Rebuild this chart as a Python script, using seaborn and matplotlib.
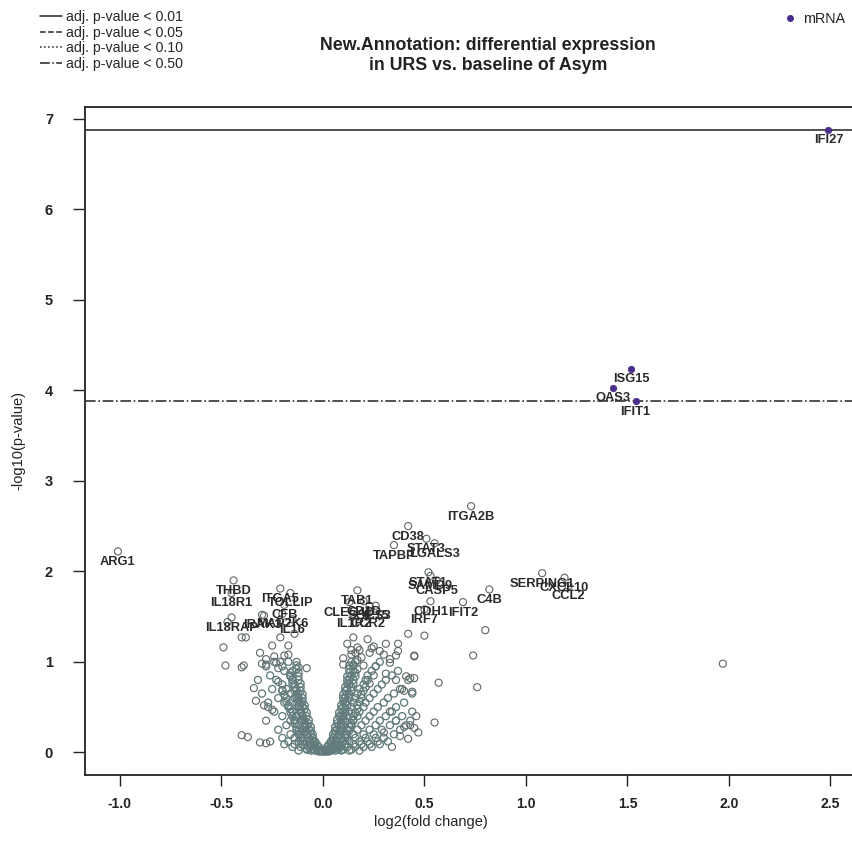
import matplotlib
matplotlib.use("Agg")
import matplotlib.pyplot as plt
from matplotlib.lines import Line2D
import seaborn as sns
import pandas as pd

# ---------------- data ----------------
# scattered (individually visible) background genes
outlier_x = [-0.49, -0.48, -0.40, -0.40, -0.37, -0.28, -0.34, -0.33, -0.31, -0.28, -0.26, -0.31, -0.28, -0.24,
             -0.19, -0.21, -0.22, -0.22, -0.20, -0.16, -0.47, -0.40, -0.38, -0.25, -0.21, -0.17, -0.17, -0.23,
             -0.39, -0.30, -0.28, -0.12, -0.08, -0.18, -0.14, -0.29, -0.29, -0.27, -0.25,
             0.12, 0.14, 0.15, 0.17, 0.16, 0.10, 0.17, 0.19, 0.22, 0.25, 0.28, 0.30, 0.31, 0.37, 0.42, 0.50,
             0.45, 0.74, 0.80, 0.33, 0.33, 0.10, 0.15, 0.20, 0.26, 0.14, 0.18, 0.23, 0.37, 0.36, 0.24,
             1.97, 0.76, 0.57, 0.55, 0.23, 0.25, 0.31, 0.36, 0.41, 0.43, 0.45, 0.40, 0.44, 0.39, 0.45,
             0.33, 0.36, 0.40, 0.43, 0.45, 0.47, 0.46, 0.34, 0.38, 0.42, 0.30]
outlier_y = [1.16, 0.96, 0.94, 0.19, 0.17, 0.35, 0.71, 0.57, 0.11, 0.10, 0.12, 1.10, 1.03, 1.06,
             1.07, 1.00, 0.93, 0.78, 0.69, 0.35, 1.44, 1.27, 1.27, 1.18, 1.27, 1.18, 1.08, 0.99,
             0.96, 0.98, 0.97, 0.94, 0.93, 1.44, 1.31, 1.51, 0.52, 0.50, 0.47,
             1.20, 1.13, 1.27, 1.16, 1.10, 1.04, 1.02, 1.05, 1.25, 1.17, 1.12, 1.08, 1.20, 1.20, 1.31, 1.29,
             1.07, 1.07, 1.35, 1.03, 0.99, 0.97, 0.97, 0.96, 0.95, 1.08, 1.13, 1.10, 1.12, 1.07, 1.15,
             0.98, 0.72, 0.77, 0.33, 0.76, 0.85, 0.87, 0.80, 0.84, 0.82, 0.82, 0.68, 0.67, 0.70, 1.06,
             0.45, 0.35, 0.28, 0.30, 0.27, 0.22, 0.40, 0.06, 0.18, 0.15, 0.22]

# dense V-shaped core: one list of log2FC values per -log10(p) level
core_levels = [0.01, 0.03, 0.06, 0.09, 0.12, 0.16, 0.20, 0.25, 0.30, 0.35, 0.40, 0.45,
               0.50, 0.55, 0.60, 0.65, 0.70, 0.75, 0.80, 0.85, 0.90, 0.95, 1.00]
core_rows = [
    [-0.02, -0.01, 0.0, 0.01, 0.02, 0.03],
    [-0.08, -0.05, -0.03, -0.01, 0.01, 0.03, 0.05, 0.07, 0.10, 0.14],
    [-0.15, -0.11, -0.07, -0.04, -0.02, 0.02, 0.04, 0.06, 0.09, 0.12, 0.16, 0.20, 0.24],
    [-0.19, -0.14, -0.10, -0.06, -0.03, 0.03, 0.05, 0.08, 0.11, 0.15, 0.19, 0.23, 0.28],
    [-0.17, -0.12, -0.08, -0.05, -0.04, 0.04, 0.06, 0.10, 0.13, 0.18, 0.22, 0.27, 0.32],
    [-0.20, -0.14, -0.10, -0.07, -0.05, 0.05, 0.07, 0.09, 0.12, 0.16, 0.21, 0.26, 0.30],
    [-0.16, -0.11, -0.08, -0.06, 0.06, 0.08, 0.11, 0.15, 0.20, 0.25, 0.35],
    [-0.22, -0.13, -0.10, -0.07, 0.07, 0.09, 0.12, 0.17, 0.23, 0.29, 0.38],
    [-0.18, -0.12, -0.09, -0.08, 0.08, 0.10, 0.14, 0.19, 0.26, 0.33, 0.41],
    [-0.14, -0.11, -0.09, 0.09, 0.11, 0.15, 0.21, 0.28, 0.36, 0.43],
    [-0.20, -0.13, -0.10, 0.09, 0.12, 0.17, 0.23, 0.31, 0.39],
    [-0.24, -0.15, -0.11, 0.10, 0.13, 0.18, 0.25, 0.34, 0.44],
    [-0.17, -0.12, -0.10, 0.10, 0.14, 0.20, 0.27, 0.36],
    [-0.27, -0.19, -0.13, -0.11, 0.11, 0.15, 0.21, 0.30, 0.40],
    [-0.22, -0.14, -0.12, 0.11, 0.16, 0.23, 0.32],
    [-0.30, -0.16, -0.12, 0.12, 0.17, 0.25, 0.35, 0.44],
    [-0.25, -0.18, -0.13, 0.12, 0.18, 0.27, 0.38],
    [-0.20, -0.14, 0.13, 0.20, 0.29],
    [-0.32, -0.23, -0.15, 0.13, 0.21, 0.31, 0.42],
    [-0.26, -0.16, 0.14, 0.22, 0.34],
    [-0.19, -0.15, 0.15, 0.24, 0.37],
    [-0.28, -0.20, 0.15, 0.26],
    [-0.24, -0.17, 0.16, 0.28],
]

# the two dark arms of the V
arm_levels = [0.02, 0.04, 0.08, 0.12, 0.16, 0.20, 0.24, 0.28, 0.32, 0.36, 0.40, 0.44, 0.48, 0.52,
              0.56, 0.60, 0.64, 0.68, 0.72, 0.76, 0.80, 0.84, 0.88, 0.92, 0.96, 1.00]
arm_rows = [
    [-0.12, -0.06, -0.04, -0.01, 0.01, 0.04, 0.06, 0.09, 0.13, 0.18],
    [-0.08, -0.05, -0.03, 0.03, 0.05, 0.08],
    [-0.09, -0.06, -0.04, 0.04, 0.06, 0.09],
    [-0.10, -0.06, -0.04, 0.04, 0.07, 0.10],
    [-0.11, -0.07, -0.05, 0.05, 0.07, 0.11],
    [-0.12, -0.08, -0.05, 0.05, 0.08, 0.12],
    [-0.12, -0.08, -0.06, 0.06, 0.08, 0.13],
    [-0.13, -0.09, -0.06, 0.06, 0.09, 0.13],
    [-0.14, -0.09, -0.07, 0.07, 0.09, 0.14],
    [-0.14, -0.10, -0.07, 0.07, 0.10, 0.15],
    [-0.15, -0.10, -0.08, 0.08, 0.10, 0.15],
    [-0.16, -0.11, -0.08, 0.08, 0.11, 0.16],
    [-0.16, -0.11, -0.09, 0.09, 0.11, 0.17],
    [-0.17, -0.12, -0.09, 0.09, 0.12, 0.17],
    [-0.18, -0.12, -0.10, 0.10, 0.12, 0.18],
    [-0.18, -0.13, -0.10, 0.10, 0.13, 0.19],
    [-0.19, -0.13, -0.10, 0.10, 0.13, 0.19],
    [-0.20, -0.14, -0.11, 0.11, 0.14, 0.20],
    [-0.14, -0.11, 0.11, 0.14, 0.21],
    [-0.15, -0.11, 0.12, 0.15],
    [-0.15, -0.12, 0.12, 0.15, 0.22],
    [-0.16, -0.12, 0.12, 0.16],
    [-0.16, -0.12, 0.13, 0.16],
    [-0.13, 0.13, 0.17],
    [-0.13, 0.13],
    [-0.13, 0.14],
]

# labelled genes
gene_names = ["ARG1", "THBD", "IL18R1", "ITGA5", "TOLLIP", "IL18RAP", "IRAK3", "MAP2K6", "CFB", "IL16",
              "TAB1", "CLEC4D", "IL1R2", "CD1D", "CCR2", "SOCS3", "IL15",
              "ITGA2B", "CD38", "TAPBP", "STAT3", "LGALS3", "STAT1", "SAMD9", "CASP5",
              "CDH1", "IFIT2", "IRF7", "C4B", "SERPING1", "CXCL10", "CCL2",
              "IFI27", "ISG15", "OAS3", "IFIT1"]
gene_x = [-1.01, -0.44, -0.45, -0.21, -0.16, -0.45, -0.30, -0.20, -0.19, -0.15,
          0.17, 0.13, 0.15, 0.20, 0.22, 0.23, 0.26,
          0.73, 0.42, 0.35, 0.51, 0.55, 0.52, 0.53, 0.56,
          0.53, 0.69, 0.50, 0.82, 1.08, 1.19, 1.21,
          2.49, 1.52, 1.43, 1.54]
gene_y = [2.22, 1.90, 1.76, 1.81, 1.76, 1.49, 1.52, 1.53, 1.63, 1.47,
          1.79, 1.66, 1.53, 1.67, 1.53, 1.62, 1.62,
          2.72, 2.50, 2.29, 2.36, 2.31, 1.99, 1.95, 1.90,
          1.67, 1.66, 1.58, 1.80, 1.98, 1.93, 1.84,
          6.88, 4.24, 4.03, 3.88]
gene_sig = [False] * 32 + [True] * 4

thresholds = [6.88, 3.88]
threshold_styles = ["-", "-."]
legend_labels = ["adj. p-value < 0.01", "adj. p-value < 0.05", "adj. p-value < 0.10", "adj. p-value < 0.50"]
legend_styles = ["-", "--", ":", "-."]
x_ticks = [-1.0, -0.5, 0.0, 0.5, 1.0, 1.5, 2.0, 2.5]
y_ticks = [0, 1, 2, 3, 4, 5, 6, 7]

# ---------------- figure ----------------
sns.set_theme(style="white")
plt.rcParams["font.family"] = ["Liberation Sans", "DejaVu Sans"]

W, H = 852, 859
fig = plt.figure(figsize=(W / 100, H / 100), dpi=100)

x0 = -1.172
px_per_unit = 203.0
xmax = x0 + (880 - 85) / px_per_unit
ax = fig.add_axes([85 / W, 1 - 775 / H, (880 - 85) / W, (775 - 107) / H])

core_x, core_y = [], []
for lev, row in zip(core_levels + arm_levels, core_rows + arm_rows):
    core_x.extend(row)
    core_y.extend([lev] * len(row))

core_df = pd.DataFrame({"x": core_x, "y": core_y})
out_df = pd.DataFrame({"x": outlier_x, "y": outlier_y})
gene_df = pd.DataFrame({"gene": gene_names, "x": gene_x, "y": gene_y, "sig": gene_sig})

sns.scatterplot(data=out_df, x="x", y="y", ax=ax, marker="o", s=26,
                facecolors="none", edgecolor="#5e6666", linewidth=0.8, zorder=2)
sns.scatterplot(data=gene_df[~gene_df.sig], x="x", y="y", ax=ax, marker="o", s=26,
                facecolors="none", edgecolor="#5e6666", linewidth=0.8, zorder=2)
sns.scatterplot(data=core_df, x="x", y="y", ax=ax, marker="o", s=26,
                facecolors="none", edgecolor="#627b7b", linewidth=0.95, zorder=2)
sns.scatterplot(data=gene_df[gene_df.sig], x="x", y="y", ax=ax, marker="o", s=22,
                color="#4a2c8a", edgecolor="#4a2c8a", linewidth=0.5, zorder=4)

for t, ls in zip(thresholds, threshold_styles):
    ax.axhline(t, color="#333333", lw=1.2, ls=ls, zorder=3)

for name, gx, gy in zip(gene_names, gene_x, gene_y):
    ax.annotate(name, (gx, gy), xytext=(0, -7.5), textcoords="offset points",
                ha="center", va="center", fontsize=9.3, fontweight="bold",
                color="#2a2a2a", zorder=5)

ax.set_xlim(x0, xmax)
ax.set_ylim(-0.25, 7.13)
ax.set_xticks(x_ticks)
ax.set_xticklabels([f"{v:.1f}" for v in x_ticks])
ax.set_yticks(y_ticks)
ax.set_yticklabels([str(v) for v in y_ticks])
ax.tick_params(axis="x", direction="out", length=8, width=1.0, color="#222222",
               labelsize=10, labelcolor="#222222", bottom=True, pad=8)
ax.tick_params(axis="y", direction="out", length=9, width=1.0, color="#222222",
               labelsize=10.5, labelcolor="#222222", left=True, pad=14)
for lab in ax.get_yticklabels() + ax.get_xticklabels():
    lab.set_fontweight("bold")
for s in ax.spines.values():
    s.set_color("#222222")
    s.set_linewidth(1.3)
ax.set_xlabel("log2(fold change)", fontsize=10.5, color="#222222")
ax.xaxis.set_label_coords((431 - 85) / (880 - 85), -(822 - 775) / (775 - 107))
ax.xaxis.label.set_va("center")
ax.set_ylabel("-log10(p-value)", fontsize=10.5, color="#222222")
ax.yaxis.set_label_coords(-(85 - 18) / (880 - 85), (775 - 440) / (775 - 107))
ax.yaxis.label.set_va("center")

fig.text(488 / W, 1 - 45 / H, "New.Annotation: differential expression", ha="center", va="center",
         fontsize=12.8, fontweight="bold", color="#222222")
fig.text(488 / W, 1 - 66 / H, "in URS vs. baseline of Asym", ha="center", va="center",
         fontsize=12.8, fontweight="bold", color="#222222")

handles = [Line2D([], [], color="#222222", lw=1.1, ls=ls) for ls in legend_styles]
fig.legend(handles, legend_labels, loc="upper left", bbox_to_anchor=(34 / W, 1 - 4 / H),
           frameon=False, fontsize=10.2, handlelength=1.6, labelspacing=0.13, handletextpad=0.25,
           borderaxespad=0)
mh = [Line2D([], [], marker="o", ls="", color="#4a2c8a", ms=4)]
fig.legend(mh, ["mRNA"], loc="upper left", bbox_to_anchor=(776 / W, 1 - 6 / H),
           frameon=False, fontsize=10.4, handlelength=1.2, handletextpad=0.3, borderaxespad=0)

fig.savefig("out.png", dpi=100)
